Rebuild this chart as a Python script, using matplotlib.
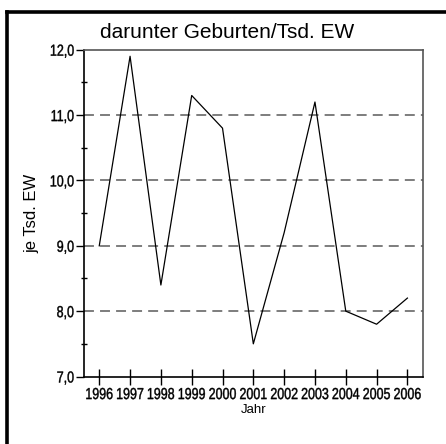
import matplotlib
matplotlib.use("Agg")
import matplotlib.pyplot as plt
from matplotlib.lines import Line2D
from matplotlib.text import Text
from matplotlib.patheffects import AbstractPathEffect
from matplotlib.transforms import Affine2D, Bbox, offset_copy
from matplotlib.ticker import MultipleLocator

# data
jahre = [1996, 1997, 1998, 1999, 2000, 2001, 2002, 2003, 2004, 2005, 2006]
geburten = [9.0, 11.9, 8.4, 11.3, 10.8, 7.5, 9.2, 11.2, 8.0, 7.8, 8.2]
y_ticks = [7.0, 8.0, 9.0, 10.0, 11.0, 12.0]
y_labels = ["7,0", "8,0", "9,0", "10,0", "11,0", "12,0"]
grid_levels = [8.0, 9.0, 10.0, 11.0]

plt.rcParams["font.family"] = ["Liberation Sans", "DejaVu Sans"]


class Squeeze(AbstractPathEffect):
    """Narrow the glyphs horizontally (no condensed font installed)."""

    def __init__(self, sx=0.78, anchor="center", stroke=0.3):
        super().__init__()
        self.sx = sx
        self.anchor = anchor
        self.stroke = stroke

    def draw_path(self, renderer, gc, tpath, affine, rgbFace=None):
        v = tpath.vertices
        cx = 0
        if len(v):
            cx = v[:, 0].max() if self.anchor == "right" else (v[:, 0].min() + v[:, 0].max()) / 2
        t = Affine2D().translate(-cx, 0).scale(self.sx, 1).translate(cx, 0) + affine
        gc0 = renderer.new_gc()
        gc0.copy_properties(gc)
        gc0.set_linewidth(self.stroke)
        gc0.set_foreground(rgbFace if rgbFace is not None else "black")
        renderer.draw_path(gc0, tpath, t, rgbFace)
        gc0.restore()


class NarrowText(Text):
    """Text drawn condensed, with an extent that matches what is drawn."""

    def __init__(self, *args, sx=0.78, anchor="center", **kwargs):
        super().__init__(*args, **kwargs)
        self._sx = sx
        self._anchor = anchor
        self.set_path_effects([Squeeze(sx, anchor)])

    def get_window_extent(self, renderer=None, dpi=None):
        bb = super().get_window_extent(renderer, dpi)
        w = bb.width * self._sx
        if self._anchor == "right":
            x1 = bb.x1
            x0 = x1 - w
        else:
            cx = (bb.x0 + bb.x1) / 2
            x0, x1 = cx - w / 2, cx + w / 2
        return Bbox([[x0, bb.y0], [x1, bb.y1]])


fig = plt.figure(figsize=(4.46, 4.44), dpi=100)
ax = fig.add_axes([0.188, 0.152, 0.760, 0.736])

for lvl in grid_levels:
    ax.axhline(lvl, color="#5a5a5a", linestyle=(0, (6.5, 4)), linewidth=1.1, zorder=1)

ax.plot(jahre, geburten, color="black", linewidth=0.9, zorder=3)

ax.set_xlim(1995.5, 2006.5)
ax.set_ylim(7.0, 12.0)
ax.set_xticks(jahre)
ax.set_yticks(y_ticks)
ax.yaxis.set_minor_locator(MultipleLocator(0.5))

ax.tick_params(axis="x", direction="inout", length=11, width=1.0, labelbottom=False)
ax.tick_params(axis="y", direction="out", length=6, width=1.0, labelleft=False)
ax.tick_params(axis="y", which="minor", direction="inout", length=4, width=1.0)

# condensed tick labels
xlab_tr = offset_copy(ax.get_xaxis_transform(), fig=fig, y=-7.6, units="points")
for j in jahre:
    ax.add_artist(NarrowText(j, 0, str(j), transform=xlab_tr, ha="center", va="top",
                             fontsize=11.5, anchor="center", clip_on=False))
ylab_tr = offset_copy(ax.get_yaxis_transform(), fig=fig, x=-7, units="points")
for v, s in zip(y_ticks, y_labels):
    ax.add_artist(NarrowText(0, v, s, transform=ylab_tr, ha="right", va="center_baseline",
                             fontsize=11.5, anchor="right", clip_on=False))

for s in ["left", "bottom"]:
    ax.spines[s].set_linewidth(1.2)
for s in ["top", "right"]:
    ax.spines[s].set_color("#555555")
    ax.spines[s].set_linewidth(1.2)

ax.set_xlabel("Jahr", fontsize=9.5)
ax.xaxis.set_label_coords(0.5, -0.084)
ax.set_ylabel("je Tsd. EW", fontsize=12)
ax.yaxis.set_label_coords(-0.13, 0.5)
fig.text(0.51, 0.926, "darunter Geburten/Tsd. EW", ha="center", va="center", fontsize=15)

# frame of the original image (top and left edges only)
fig.add_artist(Line2D([0.0168, 1.0], [0.974, 0.974], transform=fig.transFigure,
                      color="black", linewidth=2.6, solid_capstyle="projecting"))
fig.add_artist(Line2D([0.0168, 0.0168], [0.0, 0.974], transform=fig.transFigure,
                      color="black", linewidth=2.6, solid_capstyle="projecting"))

fig.savefig("out.png", dpi=100)
